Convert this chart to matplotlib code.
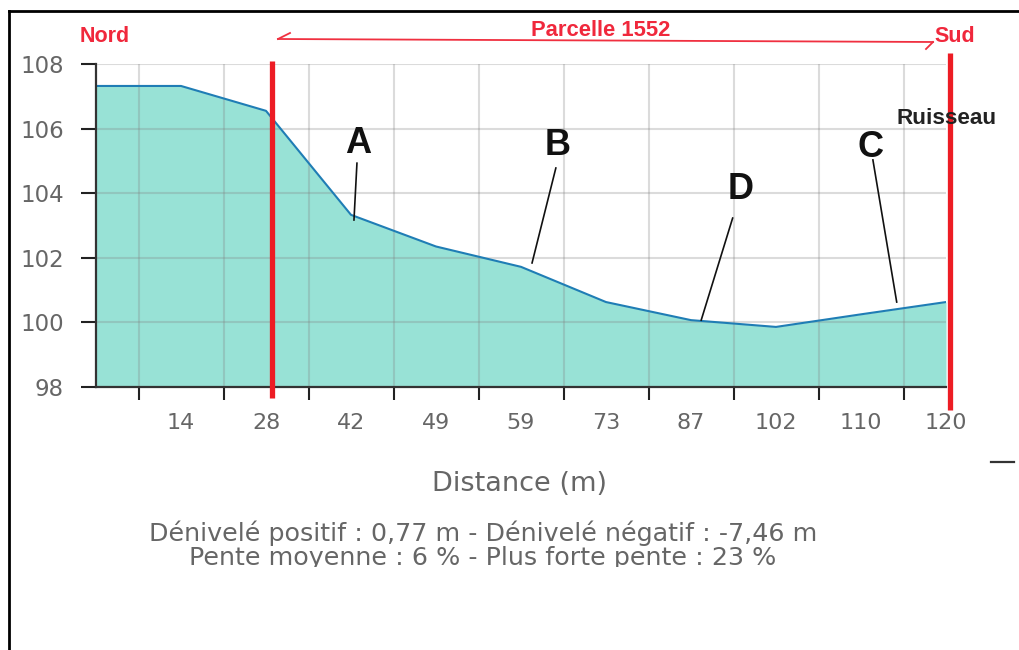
import matplotlib
matplotlib.use('Agg')
import matplotlib.pyplot as plt
from matplotlib.lines import Line2D
from matplotlib.transforms import Bbox

# ---- data ----
distance_labels = ['', '14', '28', '42', '49', '59', '73', '87', '102', '110', '120']
elevation = [107.32, 107.32, 106.55, 103.33, 102.35, 101.72, 100.63, 100.07, 99.86, 100.25, 100.63]
y_ticks = [98, 100, 102, 104, 106, 108]

letters = ['A', 'B', 'C', 'D']
letter_pos = [(3.08, 105.55), (5.435, 105.49), (9.106, 105.43), (7.588, 104.13)]
leader_start = [(3.07, 104.93), (5.41, 104.78), (9.14, 105.03), (7.49, 103.23)]
leader_end = [(3.035, 103.17), (5.13, 101.84), (9.42, 100.63), (7.12, 100.07)]

red_lines_x = [2.07, 10.05]
red_lines_y = [(97.66, 108.09), (97.29, 108.34)]

W, H = 1019, 650
fig = plt.figure(figsize=(W / 100, H / 100), dpi=100)
fig.patch.set_facecolor('white')

def fx(px):
    return px / W

def fy(py):
    return 1 - py / H

ax = fig.add_axes([fx(96), fy(387), (946 - 96) / W, (387 - 64) / H])
xs = list(range(len(elevation)))
ax.fill_between(xs, elevation, 98, color='#98E2D6', linewidth=0, zorder=1)
ax.plot(xs, elevation, color='#1F7DB5', lw=1.5, zorder=3)
ax.set_xlim(0, len(elevation) - 1)
ax.set_ylim(98, 108)

ax.set_yticks(y_ticks)
ax.set_yticklabels([str(v) for v in y_ticks])
ax.set_xticks(xs[1:])
ax.set_xticklabels(distance_labels[1:])
ax.set_xticks([i + 0.5 for i in xs[:-1]], minor=True)

ax.tick_params(axis='x', which='major', length=0, pad=19, labelsize=16, labelcolor='#666666')
ax.tick_params(axis='x', which='minor', length=9, width=1.5, color='#222222', direction='out')
ax.tick_params(axis='y', which='major', length=11, width=1.5, color='#222222', pad=12,
               labelsize=16.5, labelcolor='#666666')

ax.grid(axis='y', which='major', color='#808080', alpha=0.28, lw=1.5, zorder=2)
ax.grid(axis='x', which='minor', color='#808080', alpha=0.28, lw=1.5, zorder=2)
ax.set_axisbelow(False)

for s in ['top', 'right']:
    ax.spines[s].set_visible(False)
for s in ['left', 'bottom']:
    ax.spines[s].set_color('#333333')
    ax.spines[s].set_linewidth(1.6)
    ax.spines[s].set_zorder(4)

# red vertical lines
for x, (y0, y1) in zip(red_lines_x, red_lines_y):
    ax.plot([x, x], [y0, y1], color='#ED1C24', lw=3.8, clip_on=False, zorder=6,
            solid_capstyle='butt')

# letters and leaders
for lab, (tx, ty), (sx, sy), (ex, ey) in zip(letters, letter_pos, leader_start, leader_end):
    ax.text(tx, ty, lab, ha='center', va='center', fontsize=26, fontweight='bold',
            family='Liberation Sans', color='#111111', zorder=7)
    ax.plot([sx, ex], [sy, ey], color='#111111', lw=1.2, zorder=7, clip_on=False)

# top annotations
red_txt = '#F0283C'
fig.text(fx(105), fy(36), 'Nord', ha='center', va='center', fontsize=15.5, fontweight='bold',
         family='Liberation Sans', color=red_txt)
fig.text(fx(601), fy(30), 'Parcelle 1552', ha='center', va='center', fontsize=15.8,
         fontweight='bold', family='Liberation Sans', color=red_txt)
fig.text(fx(955), fy(37), 'Sud', ha='center', va='center', fontsize=15.5, fontweight='bold',
         family='Liberation Sans', color=red_txt)
fig.text(fx(947), fy(118), 'Ruisseau', ha='center', va='center', fontsize=16.2, fontweight='bold',
         family='Liberation Sans', color='#222222', zorder=5)

arrow_col = '#F03040'
for (x0, y0), (x1, y1) in [((278, 39), (933, 42)), ((278, 39), (290, 33)), ((933, 42), (926, 49))]:
    fig.add_artist(Line2D([fx(x0), fx(x1)], [fy(y0), fy(y1)], color=arrow_col, lw=1.3))

# axis title and stats
fig.text(fx(520), fy(484), 'Distance (m)', ha='center', va='center', fontsize=19.5,
         color='#666666')
fig.text(fx(483), fy(541), 'Dénivelé positif : 0,77 m - Dénivelé négatif : -7,46 m',
         ha='center', va='baseline', fontsize=18.3, color='#666666')
t2 = fig.text(fx(483), fy(565), 'Pente moyenne : 6 % - Plus forte pente : 23 %',
              ha='center', va='baseline', fontsize=18.3, color='#666666')
t2.set_clip_box(Bbox([[0, H - 567], [W, H]]))
t2.set_clip_on(True)

# small dash at the right
fig.add_artist(Line2D([fx(991), fx(1014)], [fy(462), fy(462)], color='#333333', lw=1.6))

# frame border
fig.add_artist(Line2D([fx(9), fx(1019)], [fy(11), fy(11)], color='black', lw=2))
fig.add_artist(Line2D([fx(9), fx(9)], [fy(11), fy(650)], color='black', lw=2))

fig.savefig('out.png', dpi=100)
